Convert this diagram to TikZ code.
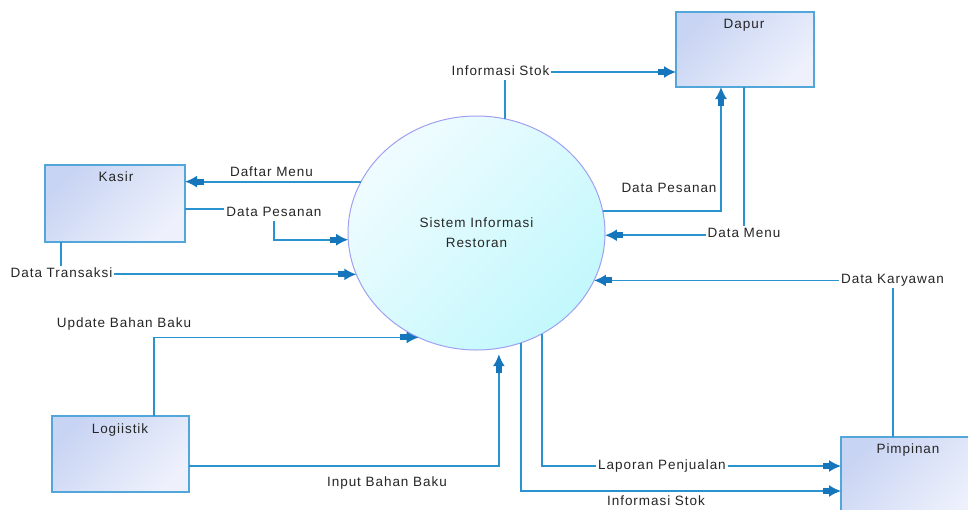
\documentclass[tikz,border=0pt]{standalone}
\usepackage{fontspec}
\setmainfont{Liberation Sans}[LetterSpace=7]
\usetikzlibrary{shapes.geometric,arrows.meta}

\definecolor{flowline}{HTML}{2A92CE}
\definecolor{tipblue}{HTML}{1576BC}
\definecolor{boxedge}{HTML}{52A6DA}
\definecolor{boxA}{HTML}{C8D4F3}
\definecolor{boxB}{HTML}{EEF1FC}
\definecolor{procA}{HTML}{F0FCFF}
\definecolor{procB}{HTML}{C2F8FC}
\definecolor{procedge}{HTML}{A0A0F2}
\definecolor{ink}{HTML}{262626}

\begin{document}
\begin{tikzpicture}[x=1pt,y=-1pt,
  font=\fontsize{13.5}{20}\selectfont, text=ink,
  entity/.style={rectangle, draw=boxedge, line width=1.8pt,
    top color=boxA, bottom color=boxB, shading angle=45,
    inner sep=0pt, outer sep=0pt},
  process/.style={ellipse, draw=procedge, line width=1pt,
    top color=procA, bottom color=procB, shading angle=45,
    inner sep=0pt, outer sep=0pt, align=center},
  flow/.style={draw=flowline, line width=1.8pt,
    -{Rectangle[length=8pt,width=6pt,sep=-1.5pt,color=tipblue]
      Latex[length=12pt,width=12pt,color=tipblue]}},
  tag/.style={inner sep=0pt, text height=9.5pt, text depth=2.5pt},
  lbl/.style={fill=white, inner sep=2pt, text height=9.5pt, text depth=2.5pt},
  note/.style={inner sep=2pt, text height=9.5pt, text depth=2.5pt}]

% page
\fill[white] (0,0) rectangle (968,509);
\useasboundingbox (0,0) rectangle (968,509);

% external entities
\node[entity, minimum width=140pt, minimum height=77pt] (kasir) at (115,203.5) {};
\node[entity, minimum width=138pt, minimum height=75pt] (dapur) at (745,49.5) {};
\node[entity, minimum width=137pt, minimum height=76pt] (logi) at (120.5,454) {};
\node[entity, minimum width=139pt, minimum height=83pt] (pimp) at (910.5,478.5) {};

\node[tag] (kasirT) at (116,178) {Kasir};
\node[tag] (dapurT) at (744,25) {Dapur};
\node[tag] (logiT) at (120,430) {Logiistik};
\node[tag] (pimpT) at (908,450) {Pimpinan};

% process
\node[process, minimum width=257pt, minimum height=234pt] (sys) at (476.5,233)
  {Sistem Informasi\\Restoran};

% data flows
\draw[flow] (sys.156.7) -- (sys.156.7 -| kasir.east);
\draw[flow] ([yshift=-5.5pt]kasir.east) -- ++(89,0) |- (sys.183.57);
\draw[flow] ([xshift=-54pt]kasir.south) |- (sys.199.3);
\draw[flow] ([xshift=33.5pt]logi.north) |- (sys.241.6);
\draw[flow, shorten >=6pt] ([yshift=-12pt]logi.east) -| (sys.281.55);
\draw[flow] (sys.76.97) |- ([yshift=-22.5pt]dapur.west);
\draw[flow] (sys.10.8) -| ([xshift=-24pt]dapur.south);
\draw[flow] ([xshift=-1pt]dapur.south) |- (sys.359.55);
\draw[flow] ([xshift=-17.5pt]pimp.north) |- (sys.338.23);
\draw[flow] (sys.303.04) |- ([yshift=12.5pt]pimp.west);
\draw[flow] (sys.292.06) |- ([yshift=-12.5pt]pimp.west);

% flow labels
\node[note] (fDaftar) at (271.5,173) {Daftar Menu};
\node[lbl] (fPesanK) at (274,213) {Data Pesanan};
\node[lbl] (fTrans) at (61.5,274) {Data Transaksi};
\node[note] (fUpdate) at (124,324) {Update Bahan Baku};
\node[note] (fInput) at (387,483) {Input Bahan Baku};
\node[lbl] (fStokD) at (500.5,72) {Informasi Stok};
\node[lbl] (fPesanD) at (669,189) {Data Pesanan};
\node[lbl] (fMenu) at (744,234) {Data Menu};
\node[lbl] (fKary) at (892.5,280) {Data Karyawan};
\node[lbl] (fLapor) at (662,466) {Laporan Penjualan};
\node[note] (fStokP) at (656,502) {Informasi Stok};
\end{tikzpicture}
\end{document}
